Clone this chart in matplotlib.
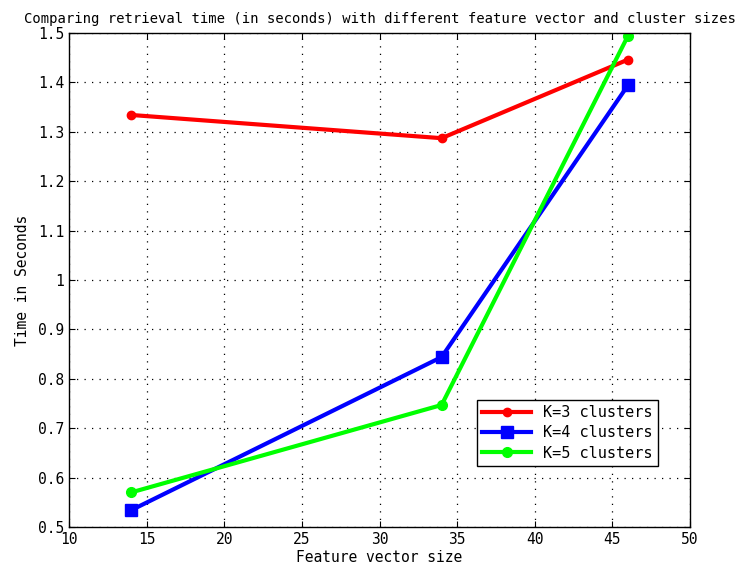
import matplotlib.pyplot as plt

# Retrieval time for each feature vector size and cluster count
feature_sizes = [14, 34, 46]
k3_times = [1.334, 1.287, 1.446]
k4_times = [0.534, 0.844, 1.394]
k5_times = [0.570, 0.747, 1.494]

x_ticks = [10, 15, 20, 25, 30, 35, 40, 45, 50]
y_ticks = [0.5, 0.6, 0.7, 0.8, 0.9, 1.0, 1.1, 1.2, 1.3, 1.4, 1.5]

plt.rcParams["font.family"] = "DejaVu Sans Mono"

fig = plt.figure(figsize=(7.51, 5.78), dpi=100)
ax = fig.add_axes([0.0919, 0.0882, 0.8269, 0.8548])

ax.plot(feature_sizes, k3_times, color="#ff0000", lw=3.0, marker="o", ms=6,
        label="K=3 clusters")
ax.plot(feature_sizes, k4_times, color="#0000ff", lw=3.0, marker="s", ms=8,
        mfc="#0000ff", mec="#0000ff", label="K=4 clusters")
ax.plot(feature_sizes, k5_times, color="#00ff00", lw=3.0, marker="o", ms=7,
        label="K=5 clusters")

ax.set_xlim(10, 50)
ax.set_ylim(0.5, 1.5)
ax.set_xticks(x_ticks)
ax.set_yticks(y_ticks)
ax.set_xticklabels([str(v) for v in x_ticks])
ax.set_yticklabels(["%g" % v for v in y_ticks])
ax.tick_params(direction="in", top=True, right=True, labelsize=10.5, length=4)
ax.grid(True, color="black", linestyle=(0, (1, 5)), linewidth=0.9)
for s in ax.spines.values():
    s.set_linewidth(1.0)

ax.set_title("Comparing retrieval time (in seconds) with different feature vector and cluster sizes",
             fontsize=10, pad=7)
ax.set_xlabel("Feature vector size", fontsize=10.5, labelpad=2)
ax.set_ylabel("Time in Seconds", fontsize=10.5, labelpad=6)

leg = ax.legend(loc="lower right", bbox_to_anchor=(0.961, 0.108), fontsize=11,
                fancybox=False, edgecolor="black", framealpha=1,
                handlelength=3.2, borderpad=0.35, labelspacing=0.35)
leg.get_frame().set_linewidth(1.0)

fig.savefig("out.png", dpi=100)
